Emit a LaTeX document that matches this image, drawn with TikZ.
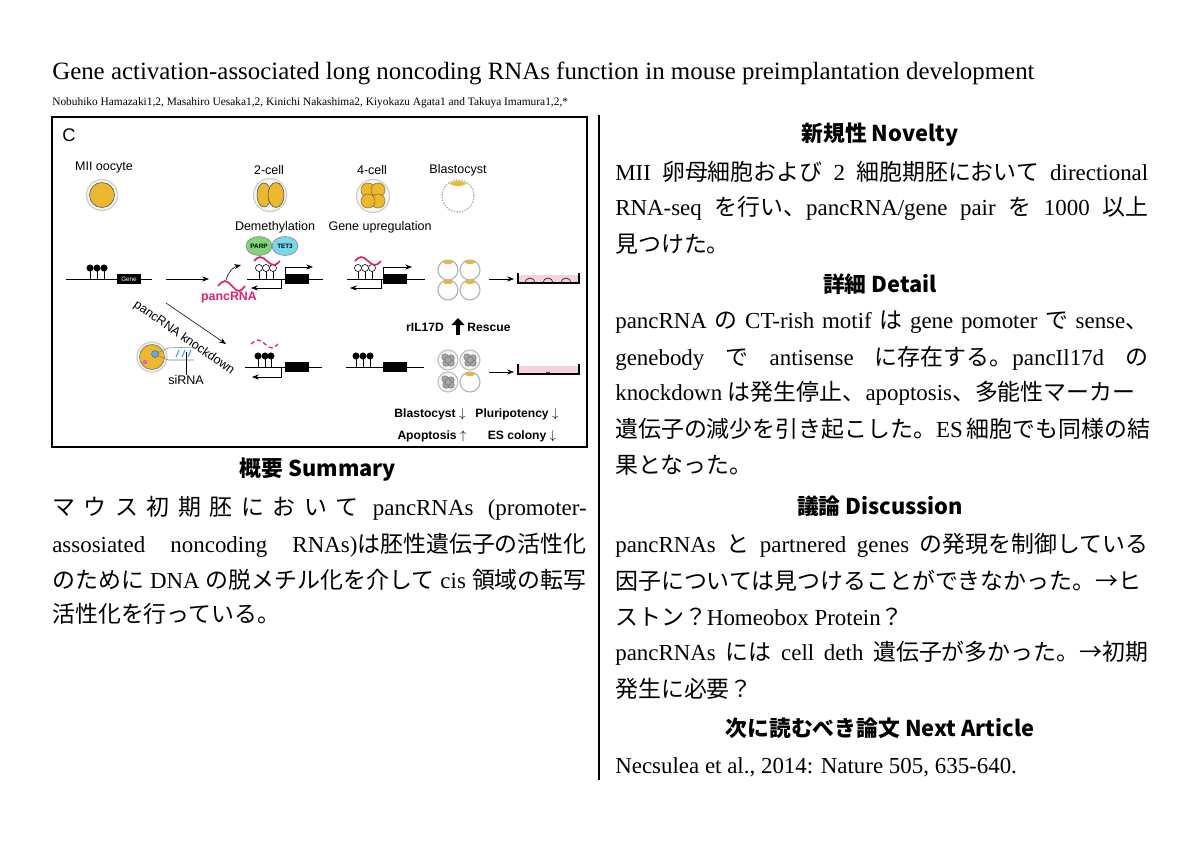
\documentclass[tikz,border=0pt]{standalone}
\usepackage{fontspec}
\setmainfont{Liberation Serif}
\setsansfont{Liberation Sans}
\newfontfamily\cjk{Noto Sans CJK JP}
\usetikzlibrary{arrows.meta, positioning, shapes.geometric}
\definecolor{yolk}{RGB}{236,184,48}
\definecolor{panc}{RGB}{212,38,112}
\definecolor{parpgreen}{RGB}{130,212,120}
\definecolor{tetcyan}{RGB}{125,215,235}
\definecolor{dishpink}{RGB}{246,210,220}
\newcommand\J[1]{{\cjk #1}}
\newcommand\jl[1]{\makebox[379pt][s]{#1}}
\newcommand\gl{\hspace{0pt plus 1fil}}

\begin{document}
\begin{tikzpicture}[x=0.025cm, y=-0.025cm, >=Stealth]
        \tikzset{
          fig/.style={font=\sffamily\fontsize{8.9}{9}\selectfont, inner sep=0pt},
          figb/.style={font=\sffamily\bfseries\fontsize{8.6}{9}\selectfont, inner sep=0pt},
          head/.style={font=\cjk\bfseries\fontsize{15.5}{18}\selectfont, inner sep=0pt},
          body/.style={anchor=west, inner sep=0pt, font=\fontsize{16.3}{20}\selectfont},
          ball/.style={circle, fill=black, inner sep=0pt, minimum size=5pt},
          oball/.style={circle, draw=black, fill=white, inner sep=0pt, minimum size=5pt},
          genebox/.style={fill=black, inner sep=0pt, minimum width=17pt, minimum height=7.5pt},
          enz/.style={ellipse, draw=gray, inner sep=0pt, minimum width=18.5pt, minimum height=13.5pt,
            font=\sffamily\bfseries\fontsize{4.5}{5}\selectfont},
          wave/.style={panc, line width=1.2pt}
        }
        \useasboundingbox (0,0) rectangle (1200,849);

        % title and authors
        \node[anchor=base west, inner sep=0pt, font=\fontsize{17.7}{20}\selectfont] (title) at (52,79)
          {Gene activation-associated long noncoding RNAs function in mouse preimplantation development};
        \node[anchor=base west, inner sep=0pt, font=\fontsize{8.1}{10}\selectfont] (authors) at (52,105)
          {Nobuhiko Hamazaki1,2, Masahiro Uesaka1,2, Kinichi Nakashima2, Kiyokazu Agata1 and Takuya Imamura1,2,*};
        \draw[line width=1pt] (599,115) -- (599,780);

        % figure panel
        \draw[line width=1pt] (52,117) rectangle (587,447);
        \node[font=\sffamily\fontsize{13}{13}\selectfont] (lblC) at (69,135) {C};
        \node[fig] (mii) at (104,167) {MII oocyte};
        \node[fig] (two) at (269,170) {2-cell};
        \node[fig] (four) at (372,170) {4-cell};
        \node[fig] (blast) at (458,170) {Blastocyst};
        \node[fig] (demeth) at (275,227) {Demethylation};
        \node[fig] (upreg) at (380,227) {Gene upregulation};
        \node[enz, fill=parpgreen] (parp) at (259,246) {PARP};
        \node[enz, fill=tetcyan] (tet) at (285,246) {TET3};

        % embryos
        \filldraw[fill=gray!8, draw=gray!40, line width=0.8pt] (102,195) circle (15.5);
        \filldraw[fill=yolk, draw=black!70] (102,195) circle (12.5);
        \filldraw[fill=gray!8, draw=gray!40, line width=0.8pt] (270,195) circle (16.5);
        \filldraw[fill=yolk, draw=black!70] (264,195) ellipse (7 and 12);
        \filldraw[fill=yolk, draw=black!70] (276,195) ellipse (8 and 12.5);
        \filldraw[fill=gray!8, draw=gray!40, line width=0.8pt] (373,196) circle (16.5);
        \foreach \cx/\cy in {368/190,378/190,378/201,368/201}
          \filldraw[fill=yolk, draw=yolk!60!black, thin] (\cx,\cy) circle (7);
        \filldraw[fill=white, draw=gray!60, densely dotted, line width=1pt] (458,196) circle (16);
        \begin{scope}
          \clip (458,196) circle (15);
          \fill[yolk] (458,181) ellipse (10 and 5);
        \end{scope}

        % row 1: gene with pancRNA
        \draw (66,279) -- (152,279);
        \foreach \x in {90,97,104} \draw (\x,279) -- (\x,268) node[ball] {};
        \node[genebox, minimum width=17pt, text=white, font=\sffamily\fontsize{4.5}{5}\selectfont] (gene1) at (129,279) {Gene};
        \coordinate (s1) at (166,279); \coordinate (e1) at (209,279);
        \draw[->] (s1) -- (e1);
        \draw[wave] (218,286) sin (225,281) cos (232,286) sin (239,291) cos (245,286);
        \node[font=\sffamily\bfseries\fontsize{8.8}{9}\selectfont, text=panc, inner sep=0pt] (panclbl) at (229,298) {pancRNA};
        \coordinate (c1) at (226,280); \coordinate (c2) at (241,265);
        \draw[->] (c1) to[bend left=30] (c2);

        \draw (247,279) -- (323,279);
        \foreach \x in {259,266,273} \draw (\x,279) -- (\x,268) node[oball] {};
        \draw[wave] (254,261) sin (260,257) cos (267,261) sin (274,265) cos (280,261);
        \node[genebox] (gene2) at (297,279) {};
        \draw[->] (285,279) |- (313,267);
        \draw[->] (281,279) |- (251,288);

        \draw (347,279) -- (425,279);
        \foreach \x in {358,365,372} \draw (\x,279) -- (\x,268) node[oball] {};
        \draw[wave] (355,261) sin (361,257) cos (368,261) sin (375,265) cos (381,261);
        \node[genebox] (gene3) at (395,279) {};
        \draw[->] (383,279) |- (412,267);
        \draw[->] (381,279) |- (350,288);

        \foreach \cx/\cy in {448/270,470/270,448/290,470/290}{
          \filldraw[fill=white, draw=gray!60, line width=0.8pt] (\cx,\cy) circle (10);
          \begin{scope}
            \clip (\cx,\cy) circle (9.5);
            \fill[yolk] (\cx,\cy-9) ellipse (6 and 3);
          \end{scope}
        }
        \coordinate (s2) at (489,279); \coordinate (e2) at (514,279);
        \draw[->] (s2) -- (e2);
        \fill[dishpink] (518,275) rectangle (579,283);
        \draw[line width=0.8pt] (518,273) -- (518,283) -- (579,283) -- (579,273);
        \foreach \x in {525,543,561} \draw (\x,283) arc (180:360:5);

        % knockdown
        \coordinate (k1) at (166,303); \coordinate (k2) at (226,344);
        \draw[->] (k1) -- (k2);
        \node[fig, rotate=-35] (kdlbl) at (184,338) {pancRNA knockdown};
        \filldraw[fill=gray!8, draw=gray!40, line width=0.8pt] (152,357) circle (15);
        \filldraw[fill=yolk, draw=black!60] (152,357) circle (12.5);
        \filldraw[fill=tetcyan!80!blue, draw=black!60] (155,354) circle (3.5);
        \fill[panc!70] (145,362) circle (2.2);
        \draw[gray] (157,353) -- (168,348) -- (194,347);
        \draw[gray] (157,355) -- (168,360) -- (194,360);
        \foreach \x in {176,182,188} \draw[tetcyan!70!blue, thick] (\x,357) -- (\x+3,350);
        \node[fig] (sirna) at (186,380) {siRNA};
        \draw (sirna.north) -- (186,352);

        % row 2
        \draw[wave, densely dashed, line width=0.9pt] (251,344) sin (258,340) cos (265,344) sin (272,348) cos (278,344);
        \draw (245,367) -- (322,367);
        \foreach \x in {258,265,271} \draw (\x,367) -- (\x,356) node[ball] {};
        \node[genebox] (gene4) at (297,367) {};
        \draw[->] (281,367) |- (252,377);
        \draw (346,367) -- (424,367);
        \foreach \x in {356,363,370} \draw (\x,367) -- (\x,356) node[ball] {};
        \node[genebox] (gene5) at (395,367) {};

        \node[figb] (ril) at (425,327) {rIL17D};
        \coordinate (r1) at (458,335); \coordinate (r2) at (458,318);
        \draw[line width=3.5pt, -{Triangle[length=5pt, width=9pt]}] (r1) -- (r2);
        \node[figb] (rescue) at (489,327) {Rescue};

        \foreach \cx/\cy in {448/360,470/360,448/382}{
          \filldraw[fill=gray!8, draw=gray!50, line width=0.8pt] (\cx,\cy) circle (10);
          \foreach \dx/\dy in {-3/-3,3/-2,-2/3,3/3,0/0}
            \filldraw[fill=gray!70, draw=black!70, very thin] (\cx+\dx,\cy+\dy) circle (3.3);
        }
        \filldraw[fill=white, draw=gray!60, line width=0.8pt] (470,382) circle (10);
        \begin{scope}
          \clip (470,382) circle (9.5);
          \fill[yolk] (470,373) ellipse (6 and 3);
        \end{scope}
        \coordinate (s3) at (489,372); \coordinate (e3) at (514,372);
        \draw[->] (s3) -- (e3);
        \fill[dishpink] (518,366) rectangle (579,374);
        \draw[line width=0.8pt] (518,364) -- (518,374) -- (579,374) -- (579,364);
        \draw (546,374) arc (180:360:2);

        \node[figb] (bl) at (430,414) {Blastocyst $\downarrow$};
        \node[figb] (pl) at (517,414) {Pluripotency $\downarrow$};
        \node[figb] (ap) at (432,436) {Apoptosis $\uparrow$};
        \node[figb] (es) at (522,436) {ES colony $\downarrow$};

        % left column
        \node[head] (summary) at (318,470) {概要 Summary};
        \node[body] (l1) at (52,508) {\makebox[380pt][s]{\J{マ\gl ウ\gl ス\gl 初\gl 期\gl 胚\gl に\gl お\gl い\gl て}\gl\ pancRNAs\gl\ (promoter-}};
        \node[body] (l2) at (52,545) {\makebox[380pt][s]{assosiated noncoding RNAs)\J{は胚性遺伝子の活性化}}};
        \node[body] (l3) at (52,580) {\makebox[380pt][s]{\J{のために} DNA \J{の脱メチル化を介して} cis \J{領域の転写}}};
        \node[body] (l4) at (52,614) {\J{活性化を行っている。}};

        % right column
        \node[head] (novelty) at (880,135) {新規性 Novelty};
        \node[body] (n1) at (615,172) {\jl{MII \J{卵母細胞および} 2 \J{細胞期胚において} directional}};
        \node[body] (n2) at (615,208) {\jl{RNA-seq \J{を行い、}pancRNA/gene pair \J{を} 1000 \J{以上}}};
        \node[body] (n3) at (615,244) {\J{見つけた。}};
        \node[head] (detail) at (880,284) {詳細 Detail};
        \node[body] (d1) at (615,322) {\jl{pancRNA \J{の} CT-rish motif \J{は} gene pomoter \J{で} sense\J{、}}};
        \node[body] (d2) at (615,358) {\jl{genebody \J{で} antisense \J{に存在する。}pancIl17d \J{の}}};
        \node[body] (d3) at (615,393) {knockdown \J{は発生停止、}apoptosis\J{、多能性マーカー}};
        \node[body] (d4) at (615,429) {\jl{\J{遺伝子の減少を引き起こした。}ES \J{細胞でも同様の結}}};
        \node[body] (d5) at (615,465) {\J{果となった。}};
        \node[head] (discussion) at (880,506) {議論 Discussion};
        \node[body] (c1t) at (615,545) {\jl{pancRNAs \J{と} partnered genes \J{の発現を制御している}}};
        \node[body] (c2t) at (615,581) {\J{因子については見つけることができなかった。→ヒ}};
        \node[body] (c3t) at (615,617) {\J{ストン？}Homeobox Protein\J{？}};
        \node[body] (c4t) at (615,653) {\jl{pancRNAs \J{には} cell deth \J{遺伝子が多かった。→初期}}};
        \node[body] (c5t) at (615,689) {\J{発生に必要？}};
        \node[head] (next) at (880,728) {次に読むべき論文 Next Article};
        \node[body] (ref) at (615,767) {Necsulea et al., 2014: Nature 505, 635-640.};
\end{tikzpicture}
\end{document}
